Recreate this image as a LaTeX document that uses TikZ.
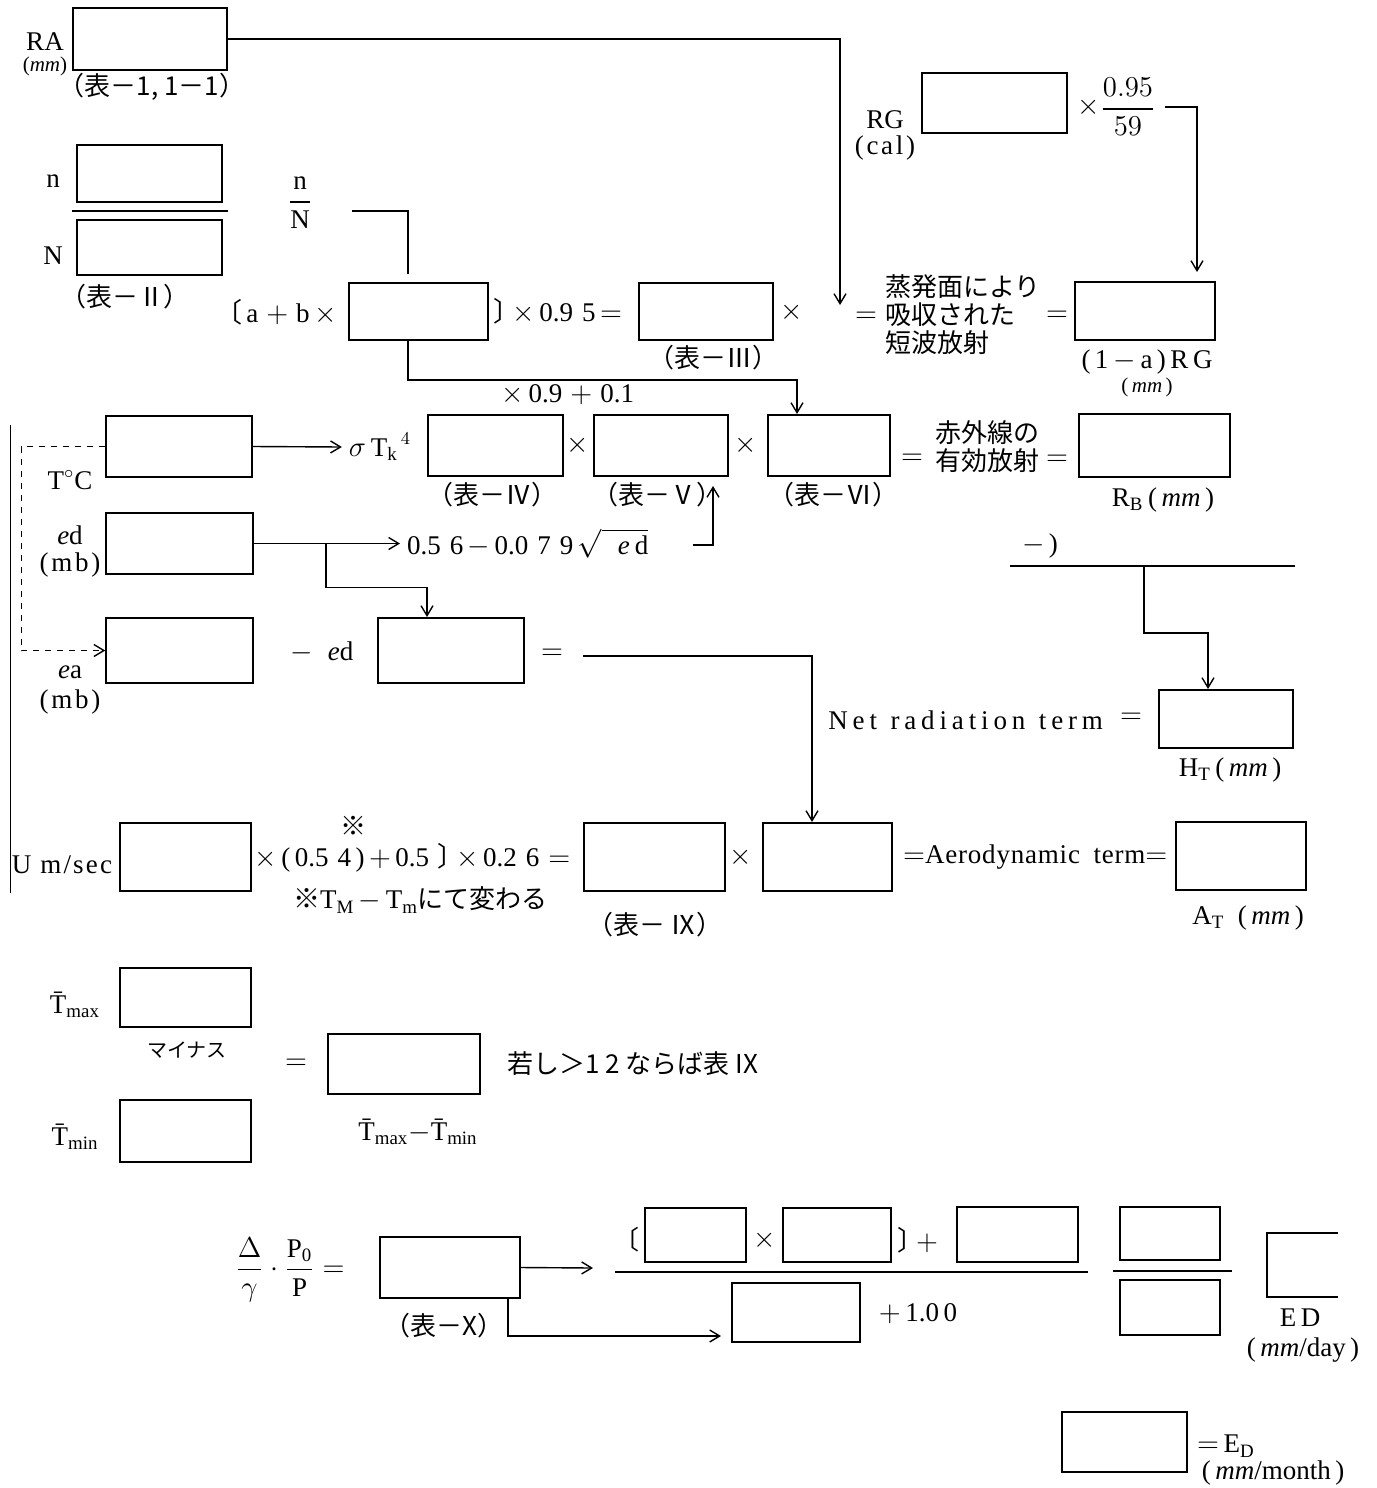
\documentclass[tikz,border=0pt]{standalone}
\usepackage{amsmath}
\usepackage{fontspec}
\setmainfont{Liberation Serif}
\newfontfamily\cjk{Noto Sans CJK JP}
\newfontfamily\cjkp[RawFeature=+palt]{Noto Sans CJK JP}
\usetikzlibrary{arrows.meta}
\newcommand{\mmunit}{\textit{mm}}

\begin{document}
\begin{tikzpicture}[x=0.5pt, y=-0.5pt, >={Straight Barb[length=5pt,width=6pt]},
    font=\fontsize{13.5}{15}\selectfont,
    cell/.style 2 args={draw, line width=0.75pt, inner sep=0pt,
        minimum width=#1*0.5pt, minimum height=#2*0.5pt},
    link/.style={line width=0.7pt},
    jp/.style={font=\cjk\fontsize{13}{14}\selectfont},
    wide/.style={font=\fontsize{13.5}{15}\selectfont\addfontfeatures{LetterSpace=10}},
    small/.style={font=\fontsize{10.5}{12}\selectfont}]
    \useasboundingbox (0,0) rectangle (1376,1488);

    % Shortwave radiation
    \node[cell={154}{62}] (ra) at (150,39) {};
    \node at (45,42) {RA};
    \node[small] at (45,66) {(\mmunit)};
    \node[jp] at (152,87) {（表－1, 1－1）};

    \node[cell={145}{60}] (rg) at (994.5,103) {};
    \node at (885,120) {RG};
    \node[wide] at (885,148) {(cal)};
    \node at (1089,107) {$\times$};
    \node at (1128,107) {$\dfrac{0.95}{59}$};
    \coordinate (rgout) at (1165,107);

    \node[cell={145}{57}] (nbox) at (149.5,173.5) {};
    \node at (53,181) {n};
    \draw[link] (72,211) -- (228,211);
    \node[cell={145}{55}] (Nbox) at (149.5,247.5) {};
    \node at (53,256) {N};
    \node[jp] at (125,297) {（表－Ⅱ）};
    \node at (300,203) {$\dfrac{\mathrm{n}}{\mathrm{N}}$};
    \coordinate (nNout) at (352,211);
    \coordinate (nNin) at (408,274);

    \node[anchor=east] at (344,312) {{\cjkp〔}\,a$\;+\;$b$\,\times$};
    \node[cell={139}{57}] (ab) at (418.5,311.5) {};
    \node[anchor=west, inner sep=0pt] at (494,311) {{\cjkp〕}\,$\times$\,0.9\,\,5\,$=$};
    \node[cell={134}{57}] (tab3) at (706,311.5) {};
    \node[jp] at (713,358) {（表－Ⅲ）};
    \node at (792,312) {$\times$};

    \coordinate (absorb) at (840,305);
    \node at (866,317) {$=$};
    \node[jp, anchor=west, align=left] at (878,315) {蒸発面により\\吸収された\\短波放射};
    \node at (1057,316) {$=$};
    \node[cell={140}{58}] (rgmm) at (1145,311) {};
    \coordinate (rgin) at (1197,272);
    \node at (1147,362) {(\,1$\,-\,$a\,)\,R\,G};
    \node[small] at (1147,387) {(\,\mmunit\,)};

    \draw[link,->] (ra.east) -| (absorb);
    \draw[link,->] (rgout) -| (rgin);
    \draw[link] (nNout) -| (nNin);

    % Longwave radiation
    \coordinate (about) at (408,340);
    \coordinate (tab6in) at (797,414);
    \draw[link,->] (about) -- ++(0,40) -| (tab6in);
    \node at (568,395) {$\times$\,0.9$\;+\;$0.1};

    \node[cell={146}{61}] (tc) at (179,446.5) {};
    \node at (70,480) {T$^{\circ}$C};
    \node (sigma) at (380,447) {$\sigma\,\mathrm{T_k}^{\,4}$};
    \node[cell={135}{61}] (tab4) at (495.5,445.5) {};
    \node at (578,445) {$\times$};
    \node[cell={134}{61}] (tab5) at (661,445.5) {};
    \node at (746,445) {$\times$};
    \node[cell={122}{61}] (tab6) at (829,445.5) {};
    \node[jp] at (492,495) {（表－Ⅳ）};
    \node[jp] at (657,495) {（表－Ⅴ）};
    \node[jp] at (833,495) {（表－Ⅵ）};
    \node at (912,459) {$=$};
    \node[jp, anchor=west, align=left] at (928,447) {赤外線の\\有効放射};
    \node at (1057,460) {$=$};
    \node[cell={151}{63}] (rb) at (1154.5,445.5) {};
    \node at (1163,500) {R$_{\mathrm{B}}$\,(\,\mmunit\,)};

    \node[cell={147}{61}] (ed) at (179.5,543.5) {};
    \node at (70,535) {\textit{e}d};
    \node[wide] at (70,565) {(mb)};
    \node[anchor=west] (sqrtterm) at (400,543.5) {0.5\,\,6\,$-$\,0.0\,\,7\,\,9\,$\sqrt{\;\;\mathit{e}\,\mathrm{d}}$};
    \coordinate (sqrtout) at (693,545);
    \coordinate (tab5in) at (713,486);
    \coordinate (edtap) at (326,543.5);
    \coordinate (difin) at (427,617);

    \node[cell={147}{65}] (ea) at (179.5,650.5) {};
    \node at (70,672) {\textit{e}a};
    \node[wide] at (70,702) {(mb)};
    \node at (322,652) {$-$\;\;\textit{e}d};
    \node[cell={146}{65}] (dif) at (451,650.5) {};
    \node at (552,654) {$=$};
    \coordinate (difout) at (583,656);

    \draw[link,->] (tc.east) -- (sigma.west);
    \draw[link,->] (ed.east) -- (sqrtterm.west);
    \draw[link,->] (sqrtout) -| (tab5in);
    \draw[link,->] (edtap) -- ++(0,44) -| (difin);
    \draw[link,dashed,->] (tc.west) -- ++(-84,0) |- (ea.west);
    \draw[line width=0.5pt] (10,425) -- (10,893);

    % Net radiation
    \node at (1040,546) {$-$\,)};
    \draw[link] (1010,566) -- (1295,566);
    \coordinate (netout) at (1144,566);
    \node[anchor=east] at (1110,720) {\addfontfeatures{LetterSpace=18}Net\enspace radiation\enspace term};
    \node at (1131,718) {$=$};
    \node[cell={134}{58}] (ht) at (1226,719) {};
    \coordinate (htin) at (1208,689);
    \node at (1230,770) {H$_{\mathrm{T}}$\,(\,\mmunit\,)};
    \draw[link,->] (netout) -- ++(0,67) -| (htin);

    % Aerodynamic term
    \node at (62,865) {\addfontfeatures{LetterSpace=8}U m/sec};
    \node[cell={131}{68}] (um) at (185.5,857) {};
    \node[anchor=west, inner sep=0pt] (wind) at (254,858) {$\times$\,(\,0.5\,\,4\,)\,$+$\,0.5\,\,{\cjkp〕}\,$\times$\,0.2\,\,6\,\,$=$};
    \node[jp] at (353,826) {※};
    \node[anchor=west] at (286,900) {{\cjk※}T$_{\mathrm{M}}$\,$-$\,T$_{\mathrm{m}}${\cjk\fontsize{13}{14}\selectfont にて変わる}};
    \node[cell={141}{68}] (tab9) at (654.5,857) {};
    \node[jp] at (655,925) {（表－ Ⅸ）};
    \node at (741,857) {$\times$};
    \node[cell={129}{68}] (aero) at (827.5,857) {};
    \coordinate (aeroin) at (812,822);
    \node[anchor=west] at (896,857) {$=$\addfontfeatures{LetterSpace=3}Aerodynamic\enspace term$=$};
    \node[cell={130}{68}] (at) at (1241,856) {};
    \node at (1248,918) {A$_{\mathrm{T}}$ \ (\,\mmunit\,)};
    \draw[link,->] (difout) -| (aeroin);

    % Temperature range
    \node at (75,1005) {\=T$_{\mathrm{max}}$};
    \node[cell={131}{59}] (tmax) at (185.5,997.5) {};
    \node[jp, font=\cjk\fontsize{10}{11}\selectfont] at (187,1050) {マイナス};
    \node at (296,1064) {$=$};
    \node[cell={152}{60}] (trange) at (404,1064) {};
    \node at (418,1132) {\=T$_{\mathrm{max}}$$-$\=T$_{\mathrm{min}}$};
    \node[jp, anchor=west] at (500,1064) {若し＞1 2 ならば表 IX};
    \node at (75,1137) {\=T$_{\mathrm{min}}$};
    \node[cell={131}{62}] (tmin) at (185.5,1131) {};

    % Evaporation
    \node at (290,1270) {$\dfrac{\Delta}{\gamma}\cdot\dfrac{\mathrm{P_0}}{\mathrm{P}}=$};
    \node[cell={140}{61}] (tabX) at (450,1267.5) {};
    \node[jp] at (444,1326) {（表－X）};
    \coordinate (fracin) at (593,1268);
    \coordinate (tabXout) at (508,1298);
    \coordinate (denin) at (721,1336);
    \draw[link,->] (tabX.east) -- (fracin);
    \draw[link,->] (tabXout) |- (denin);

    \node[font=\cjkp\fontsize{13}{14}\selectfont] at (632,1240) {〔};
    \node[cell={101}{54}] (num1) at (695.5,1235) {};
    \node at (765,1240) {$\times$};
    \node[cell={108}{54}] (num2) at (837,1235) {};
    \node at (918,1240) {{\cjkp〕}\,$+$};
    \node[cell={121}{55}] (num3) at (1017.5,1234.5) {};
    \draw[link] (615,1272) -- (1088,1272);
    \node[cell={128}{59}] (den) at (796,1312.5) {};
    \node at (918,1314) {$+$\,1.0\,0};

    \node[cell={100}{53}] (f2n) at (1170,1233.5) {};
    \draw[link] (1113,1271) -- (1232,1271);
    \node[cell={100}{55}] (f2d) at (1170,1307.5) {};

    \draw[line width=0.75pt] (1338,1233) -- (1267,1233) -- (1267,1297) -- (1338,1297);
    \node at (1300,1318) {E\,D};
    \node at (1303,1350) {(\,\mmunit/day\,)};

    \node[cell={125}{60}] (edmonth) at (1124.5,1442) {};
    \node[anchor=west] at (1190,1446) {$=$\,E$_{\mathrm{D}}$};
    \node at (1273,1473) {(\,\mmunit/month\,)};
\end{tikzpicture}
\end{document}
